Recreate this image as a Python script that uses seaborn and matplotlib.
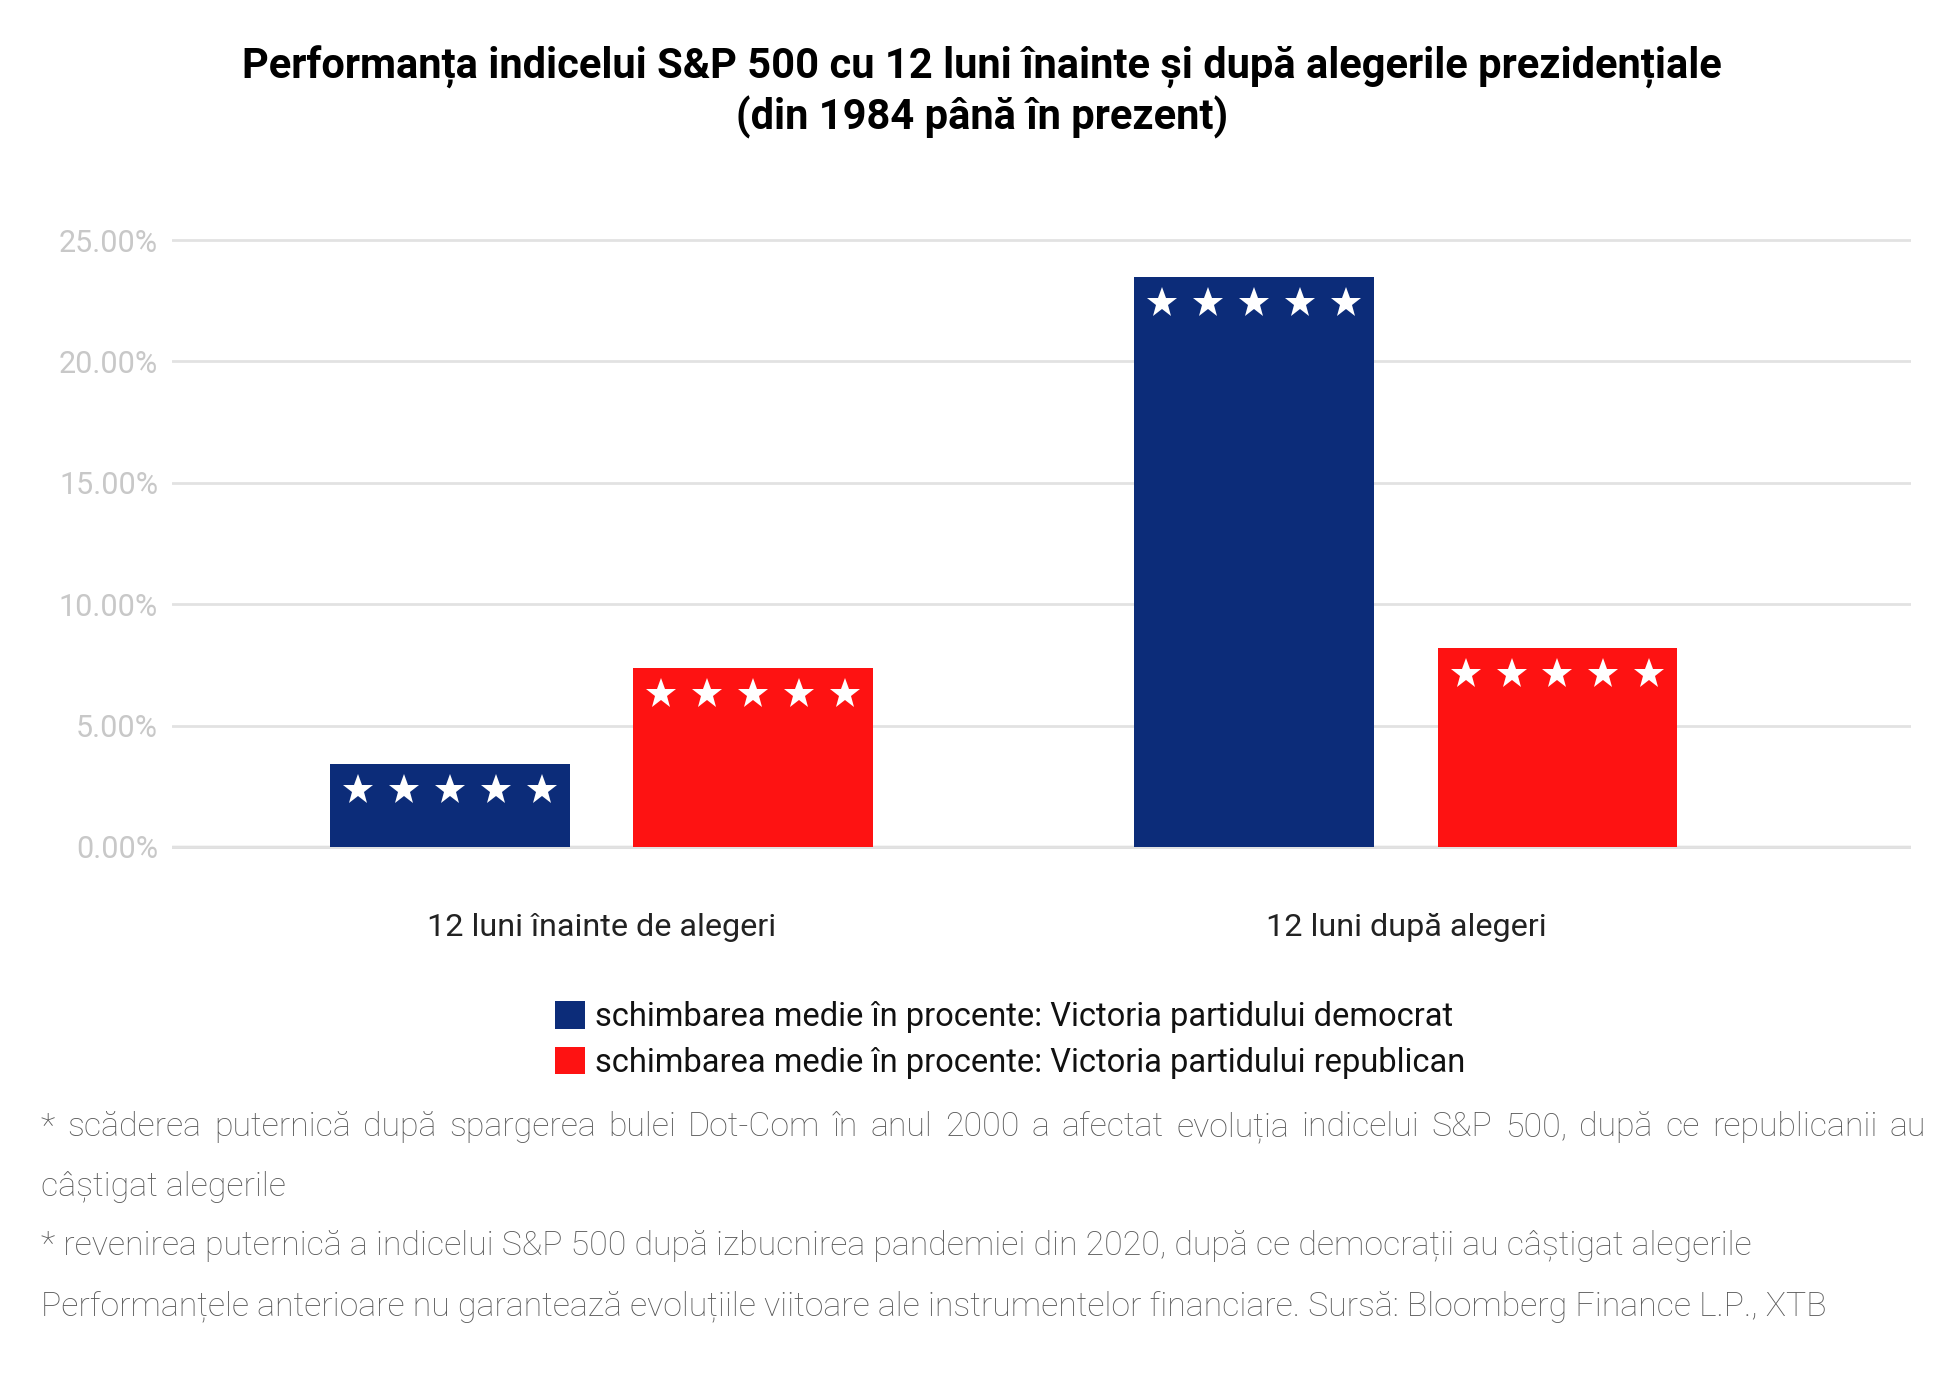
import matplotlib
matplotlib.use("Agg")
import matplotlib.pyplot as plt
import seaborn as sns
import pandas as pd
from matplotlib.ticker import FuncFormatter
from matplotlib.transforms import offset_copy

# ---------------- data ----------------
categories = ["12 luni înainte de alegeri", "12 luni după alegeri"]
series_names = [
    "schimbarea medie în procente: Victoria partidului democrat",
    "schimbarea medie în procente: Victoria partidului republican",
]
democrat_values = [3.43, 23.46]
republican_values = [7.38, 8.20]
y_ticks = [0, 5, 10, 15, 20, 25]
title_text = ("Performanța indicelui S&P 500 cu 12 luni înainte și după alegerile prezidențiale\n"
              "(din 1984 până în prezent)")
footnote_1 = ("* scăderea puternică după spargerea bulei Dot-Com în anul 2000 a afectat "
              "evoluția indicelui S&P 500, după ce republicanii au")
footnote_1b = "câștigat alegerile"
footnote_2 = ("* revenirea puternică a indicelui S&P 500 după izbucnirea pandemiei din 2020, "
              "după ce democrații au câștigat alegerile")
footnote_3 = ("Performanțele anterioare nu garantează evoluțiile viitoare ale instrumentelor "
              "financiare. Sursă: Bloomberg Finance L.P., XTB")

BLUE = "#0c2c79"
RED = "#fe1212"

sns.set_theme(style="white")
plt.rcParams["font.family"] = ["Roboto", "DejaVu Sans"]

df = pd.DataFrame({
    "categorie": categories * 2,
    "serie": [series_names[0]] * len(categories) + [series_names[1]] * len(categories),
    "valoare": democrat_values + republican_values,
})

W, H = 1950, 1379
fig = plt.figure(figsize=(W / 100, H / 100), dpi=100)
fig.patch.set_facecolor("white")

ax_left, ax_right = 172, 1911
y0_px, y25_px = 847, 240
ppu = (y0_px - y25_px) / 25.0
ymin, ymax = -0.1, 25.1
bot_px = y0_px + (0 - ymin) * ppu
top_px = y25_px - (ymax - 25) * ppu
ax = fig.add_axes([ax_left / W, 1 - bot_px / H, (ax_right - ax_left) / W, (bot_px - top_px) / H])

sns.barplot(data=df, x="categorie", y="valoare", hue="serie", order=categories,
            hue_order=series_names, palette=[BLUE, RED], saturation=1,
            width=0.754, gap=0.21, errorbar=None, ax=ax, legend=True, linewidth=0)

ax.set_xlim(-0.534, 1.628)
ax.set_ylim(ymin, ymax)
ax.set_yticks(y_ticks)
ax.yaxis.set_major_formatter(FuncFormatter(lambda v, p: f"{v:.2f}%"))
ax.yaxis.grid(True, color="#e2e2e2", linewidth=2)
ax.set_axisbelow(True)
for s in ax.spines.values():
    s.set_visible(False)
ax.axhline(0, color="#d6d6d6", linewidth=2.5, zorder=0.5)
ax.set_xlabel("")
ax.set_ylabel("")
ax.tick_params(axis="y", length=0, labelsize=22, labelcolor="#c8c8c8", pad=10)
ax.tick_params(axis="x", length=0, labelsize=23.3, labelcolor="#222222", pad=46)

# stars on top of each bar
star_trans = offset_copy(ax.transData, fig=fig, x=0, y=-26, units="dots")
fracs = [0.117, 0.3085, 0.5, 0.6915, 0.883]
for cont in ax.containers:
    for p in cont:
        x0, w, h = p.get_x(), p.get_width(), p.get_height()
        xs = [x0 + w * f for f in fracs]
        ax.plot(xs, [h] * len(xs), linestyle="none", marker="*", color="white",
                markersize=22.5, markeredgewidth=0, transform=star_trans, zorder=5)

# legend
handles, labels = ax.get_legend_handles_labels()
if ax.legend_ is not None:
    ax.legend_.remove()
fig.legend(handles, labels, loc="center", bbox_to_anchor=(1010 / W, 1 - 1040 / H),
           ncol=1, frameon=False, fontsize=23.5, handlelength=0.92, handleheight=0.92,
           handletextpad=0.3, labelspacing=0.42, borderpad=0, labelcolor="#111111")

# title
fig.text(982 / W, 1 - 92 / H, title_text, ha="center", va="center", fontsize=30,
         fontweight="bold", color="black", linespacing=1.2)

# footnotes
fn_kw = dict(fontsize=24.4, color="#5a5a5a", va="center", ha="left", fontweight="light")
left_px, right_px = 41, 1926
renderer = fig.canvas.get_renderer()
words = footnote_1.split(" ")
tmp = [fig.text(0, 0, wd, **fn_kw) for wd in words]
widths = [t.get_window_extent(renderer).width for t in tmp]
for t in tmp:
    t.remove()
gap = (right_px - left_px - sum(widths)) / (len(words) - 1)
xpos = left_px
for wd, wdt in zip(words, widths):
    fig.text(xpos / W, 1 - 1127 / H, wd, **fn_kw)
    xpos += wdt + gap
fig.text(left_px / W, 1 - 1187 / H, footnote_1b, **fn_kw)
fig.text(left_px / W, 1 - 1246 / H, footnote_2, **fn_kw)
fig.text(left_px / W, 1 - 1307 / H, footnote_3, **fn_kw)

fig.savefig("out.png", dpi=100, facecolor="white")
